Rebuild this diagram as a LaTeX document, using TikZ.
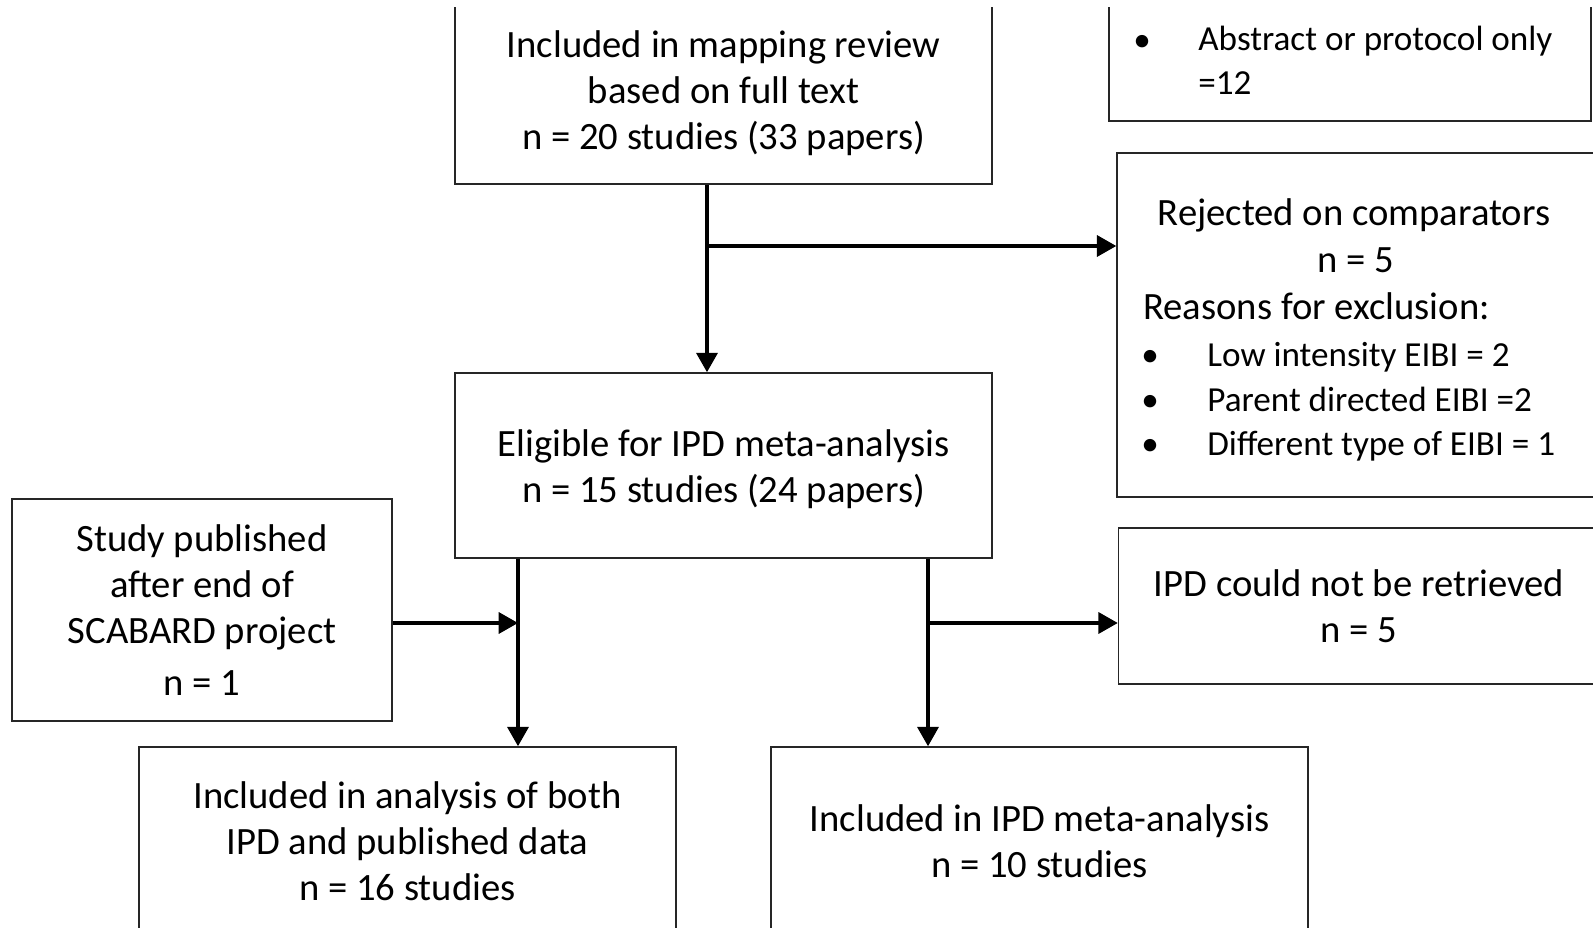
\documentclass[tikz,border=0pt]{standalone}
\usepackage{fontspec}
\setmainfont{Carlito}
\usetikzlibrary{arrows.meta}

\tikzset{
  box/.style={draw=black!85, line width=0.9pt, inner sep=0pt, align=center,
    font=\fontsize{22}{26.2}\selectfont},
  txt/.style={inner sep=0pt, font=\fontsize{22}{26.2}\selectfont},
  item/.style={inner sep=0pt, font=\fontsize{20}{24}\selectfont},
  flow/.style={line width=1.8pt, -{Triangle[length=11pt,width=12pt]}},
}

\begin{document}
\begin{tikzpicture}[x=0.02cm, y=-0.02cm]
\useasboundingbox (0,0) rectangle (1593,928);
\begin{scope}
\clip (0,8) rectangle (1593,928);

% boxes
\node [box, minimum width=10.74cm, minimum height=3.64cm] (mapping) at (723.5,93)
  {Included in mapping review\\based on full text\\n = 20 studies (33 papers)};
\node [box, minimum width=9.64cm, minimum height=2.44cm] (abstract) at (1350,60) {};
\node [box, minimum width=9.6cm, minimum height=6.88cm] (rejected) at (1357,325) {};
\node [box, minimum width=10.74cm, minimum height=3.7cm] (eligible) at (723.5,465.5) {};
\node [txt, align=center] (eligibletxt) at ([yshift=-2pt]eligible.center)
  {Eligible for IPD meta-analysis\\n = 15 studies (24 papers)};
\node [box, minimum width=7.6cm, minimum height=4.44cm] (late) at (202,610)
  {Study published\\after end of\\SCABARD project\\[3.8pt]n = 1};
\node [box, minimum width=9.62cm, minimum height=3.12cm] (notretrieved) at (1359,606)
  {IPD could not be retrieved\\n = 5};
\node [box, minimum width=10.74cm, minimum height=3.76cm] (both) at (407.5,841)
  {Included in analysis of both\\IPD and published data\\n = 16 studies};
\node [box, minimum width=10.74cm, minimum height=3.76cm] (ipdonly) at (1039.5,841)
  {Included in IPD meta-analysis\\n = 10 studies};

% text of the two boxes on the right
\node [item, anchor=base] (abul) at (1142,52) {•};
\node [item, anchor=base west] (abline) at (1198,51) {Abstract or protocol only};
\node [item, anchor=base west] (abnum) at (1198,95) {=12};
\node [txt, anchor=base] (rejtitle) at (1354,226) {Rejected on comparators};
\node [txt, anchor=base] (rejnum) at (1356,273) {n = 5};
\node [txt, anchor=base west] (reasons) at (1143,320) {Reasons for exclusion:};
\node [item, anchor=base] (bulone) at (1150,367) {•};
\node [item, anchor=base west] (low) at (1207,367) {Low intensity EIBI = 2};
\node [item, anchor=base] (bultwo) at (1150,412) {•};
\node [item, anchor=base west] (parent) at (1207,412) {Parent directed EIBI =2};
\node [item, anchor=base] (bulthree) at (1150,456) {•};
\node [item, anchor=base west] (differ) at (1207,456) {Different type of EIBI = 1};

% arrows
\coordinate (splitA) at (707,246);
\coordinate (splitB) at (518,623);
\coordinate (splitC) at (928,623);
\draw [flow] (mapping.south -| splitA) -- (eligible.north -| splitA);
\draw [flow] (splitA) -- (splitA -| rejected.west);
\draw [flow] (eligible.south -| splitB) -- (both.north -| splitB);
\draw [flow] (late.east |- splitB) -- (splitB);
\draw [flow] (eligible.south -| splitC) -- (ipdonly.north -| splitC);
\draw [flow] (splitC) -- (splitC -| notretrieved.west);
\end{scope}
\end{tikzpicture}
\end{document}
